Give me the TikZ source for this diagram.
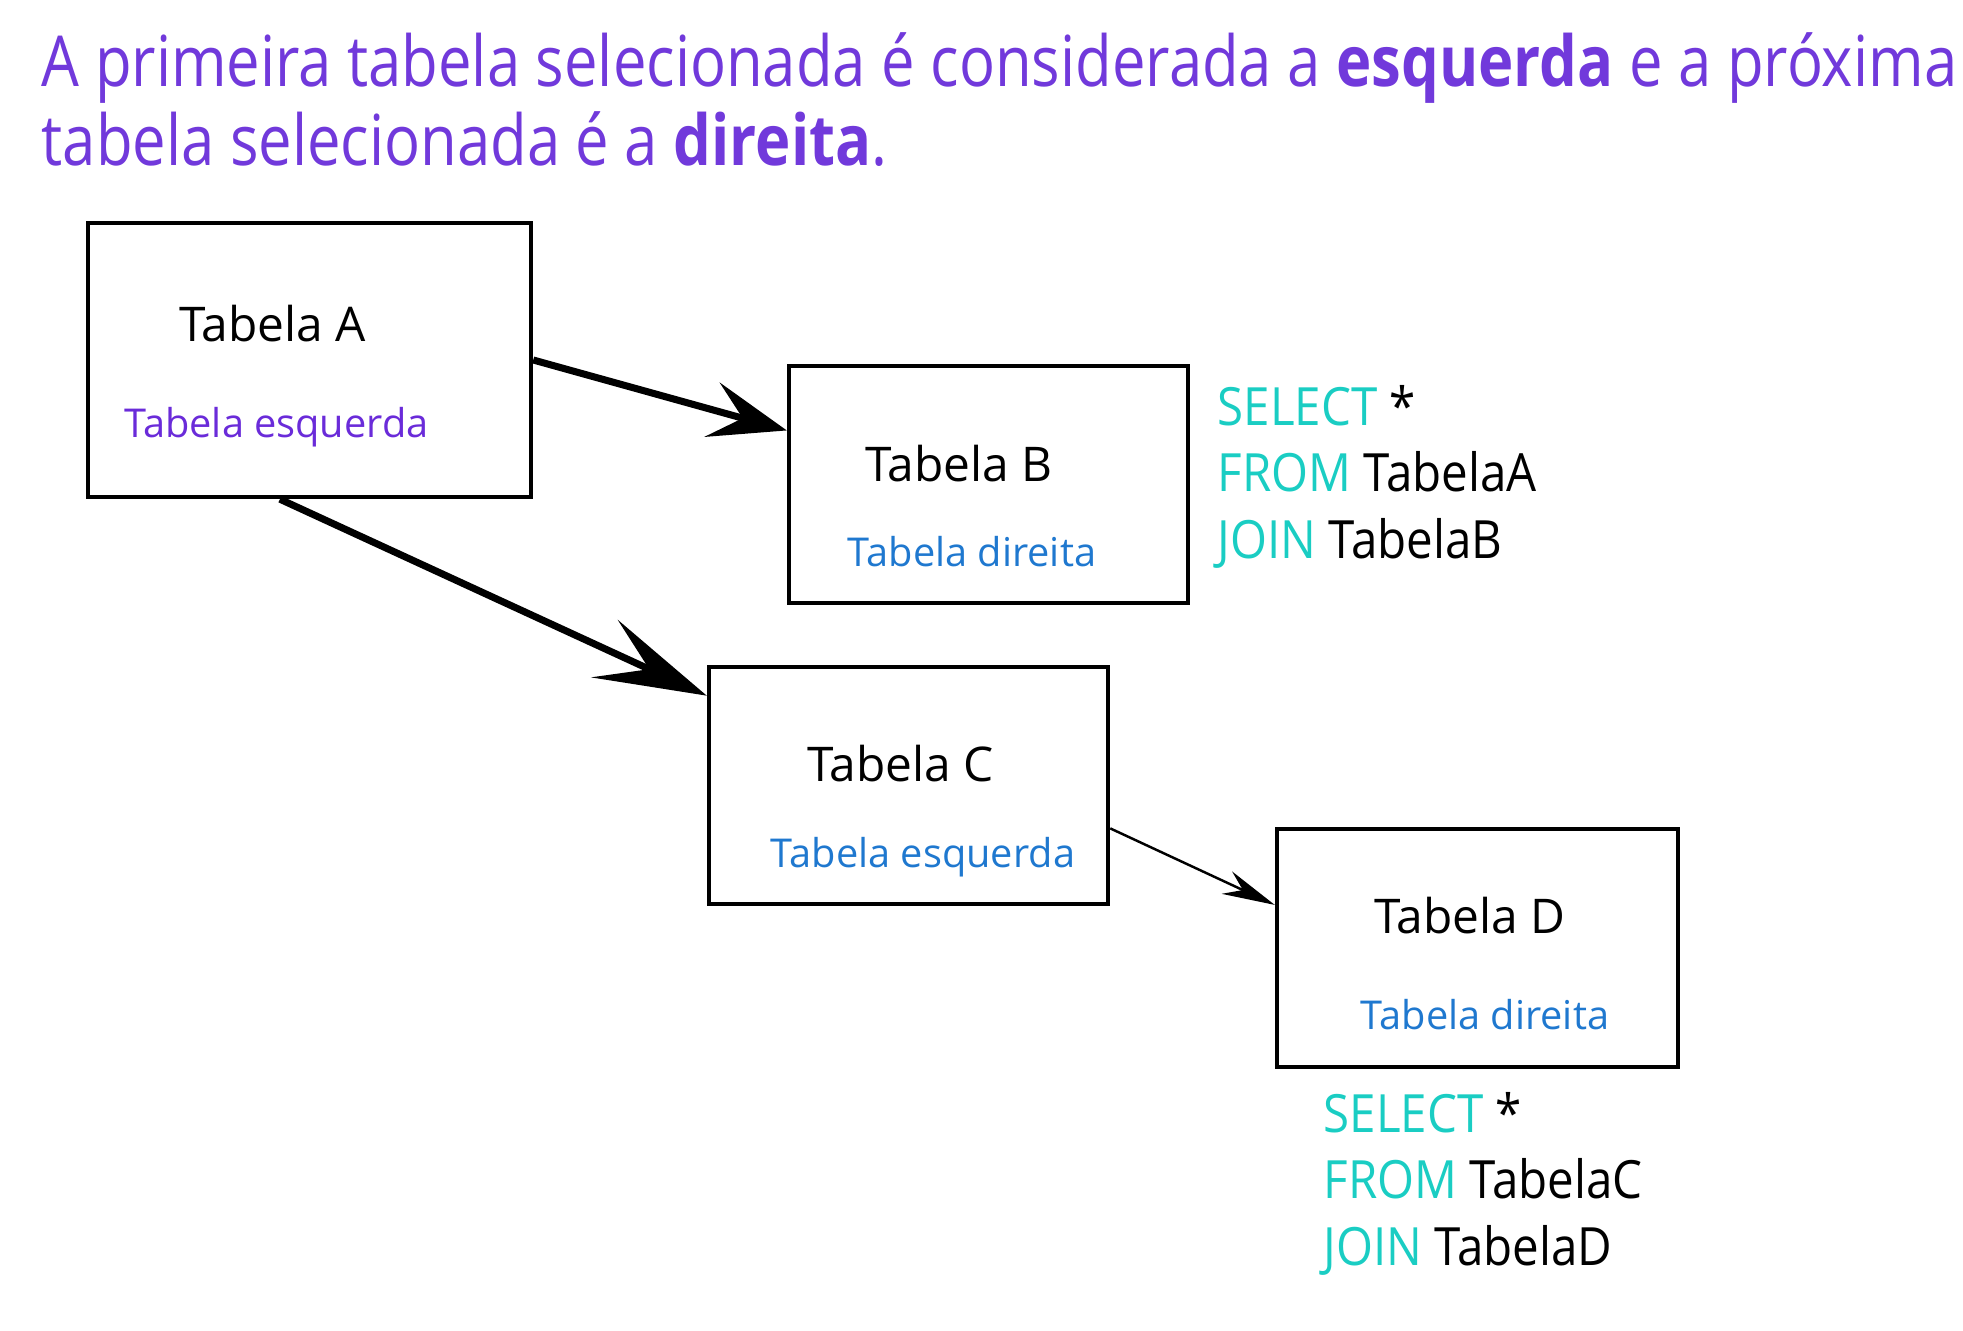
\documentclass[tikz,border=0pt]{standalone}
\usepackage{fontspec}
\setmainfont{Open Sans}
\newfontfamily\titlefont[FakeStretch=0.85]{Open Sans}
\newfontfamily\sqlfont[FakeStretch=0.9]{Open Sans}
\usetikzlibrary{arrows.meta,positioning}

\definecolor{titulo}{HTML}{7139DB}
\definecolor{esqroxo}{HTML}{6A2BD9}
\definecolor{azul}{HTML}{1F78CF}
\definecolor{ciano}{HTML}{1ACDC3}
\newcommand{\kw}[1]{\textcolor{ciano}{#1}}

\begin{document}
\begin{tikzpicture}[
    x=0.01cm, y=-0.01cm,
    tabela/.style={draw, line width=1.2pt, minimum width=3.99cm, minimum height=2.37cm},
    nome/.style={anchor=base, inner sep=0pt, font=\fontsize{13.6}{16}\selectfont},
    lado/.style={anchor=base, inner sep=0pt, font=\fontsize{11.3}{14}\selectfont, text=azul},
    sql/.style={anchor=north west, inner sep=0pt, align=left, font=\sqlfont\fontsize{15}{18.8}\selectfont},
    grosso/.style={line width=2pt, -{Stealth[length=22pt, width=16pt, inset=9pt]}},
    fino/.style={line width=0.7pt, -{Stealth[length=15pt, width=7pt, inset=5pt]}}
]
\useasboundingbox (0,0) rectangle (1963,1331);

% Title
\node[anchor=north west, inner sep=0pt, align=left, text=titulo,
      font=\titlefont\fontsize{20}{22.5}\selectfont] (TITLE) at (41,32)
    {A primeira tabela selecionada é considerada a \textbf{esquerda} e a próxima\\
     tabela selecionada é a \textbf{direita}.};

% Tables
\node[tabela, minimum width=4.43cm, minimum height=2.74cm] (TABA) at (309.5,360) {};
\node[tabela] (TABB) at (988.5,484.5) {};
\node[tabela] (TABC) at (908.5,785.5) {};
\node[tabela, minimum width=4.01cm, minimum height=2.38cm] (TABD) at (1477.5,948) {};

\node[nome] (NA) at (272.5,342) {Tabela A};
\node[lado, text=esqroxo] (LA) at (276.5,438) {Tabela esquerda};
\node[nome] (NB) at (959,482) {Tabela B};
\node[lado] (LB) at (972,567) {Tabela direita};
\node[nome] (NC) at (900.5,782) {Tabela C};
\node[lado] (LC) at (923,868) {Tabela esquerda};
\node[nome] (ND) at (1470,933) {Tabela D};
\node[lado] (LD) at (1485,1030) {Tabela direita};

% Queries
\node[sql] (Q1) at (1217,385) {\kw{SELECT} *\\ \kw{FROM} TabelaA\\ \kw{JOIN} TabelaB};
\node[sql] (Q2) at (1323,1092) {\kw{SELECT} *\\ \kw{FROM} TabelaC\\ \kw{JOIN} TabelaD};

% Arrows
\path (TABA.east)   edge [grosso] (TABB.165)
      (TABA.258)    edge [grosso, -{Stealth[length=32pt, width=18pt, inset=14pt]}] (TABC.156)
      (TABC.-12)    edge [fino]   (TABD.168);

\end{tikzpicture}
\end{document}
